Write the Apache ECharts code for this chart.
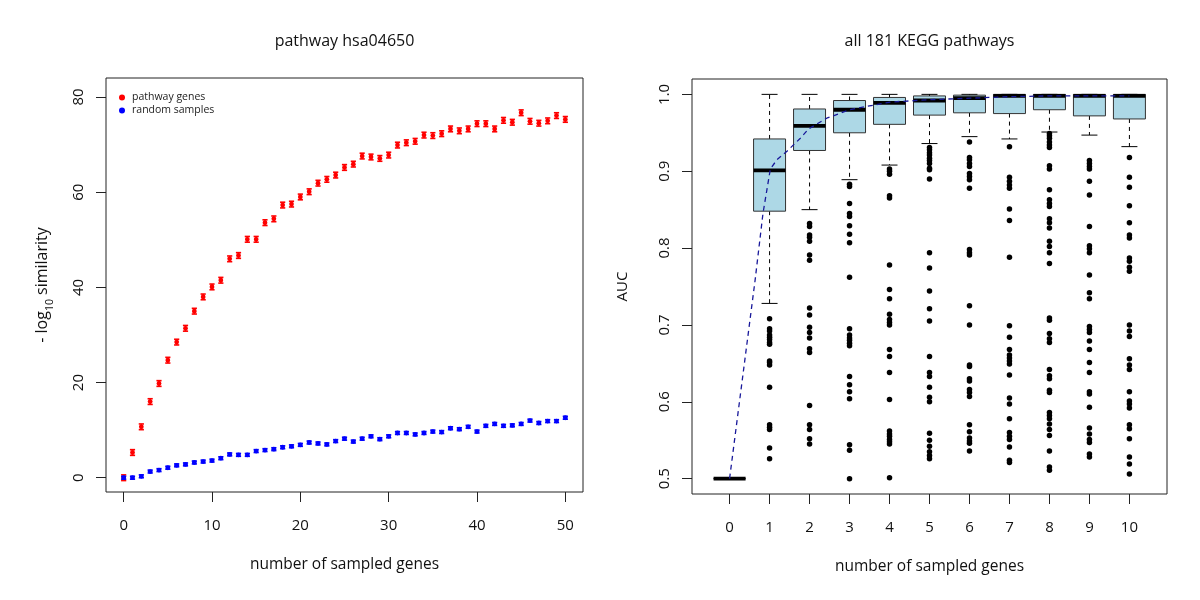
<!DOCTYPE html>
<html><head><meta charset="utf-8">
<script src="https://cdn.jsdelivr.net/npm/echarts@6/dist/echarts.min.js"></script>
<style>html,body{margin:0;padding:0;background:#fff}#c{width:1200px;height:600px}</style>
</head><body><div id="c"></div>
<script>
// ---------- left panel data ----------
const sampledGenes = [0,1,2,3,4,5,6,7,8,9,10,11,12,13,14,15,16,17,18,19,20,21,22,23,24,25,26,27,28,29,30,31,32,33,34,35,36,37,38,39,40,41,42,43,44,45,46,47,48,49,50];
const pathwayGenes = [0,5.3,10.7,16.0,19.8,24.7,28.5,31.4,35.0,38.0,40.1,41.5,46.0,46.7,50.1,50.1,53.6,54.4,57.3,57.5,59.0,60.1,61.9,62.7,63.6,65.2,65.9,67.6,67.4,67.1,67.8,69.9,70.4,70.7,72.0,71.9,72.3,73.3,72.9,73.3,74.4,74.4,73.3,75.1,74.7,76.7,74.9,74.5,75.0,76.1,75.3];
const randomSamples = [0.0,0.0,0.3,1.3,1.6,2.1,2.6,2.8,3.2,3.4,3.6,4.1,4.9,4.8,4.8,5.6,5.8,6.0,6.4,6.6,6.9,7.4,7.2,7.0,7.7,8.2,7.6,8.2,8.7,8.1,8.7,9.4,9.4,9.1,9.4,9.7,9.6,10.4,10.2,10.7,9.7,10.9,11.3,10.9,11.0,11.3,12.0,11.5,11.9,11.9,12.6];
const errPathway = 0.6;
const errRandom = 0.3;
const leftXTicks = [0,10,20,30,40,50];
const leftYTicks = [0,20,40,60,80];

// ---------- right panel data ----------
const boxCategories = [0,1,2,3,4,5,6,7,8,9,10];
// [lower whisker, Q1, median, Q3, upper whisker]
const boxStats = [
  [0.500,0.500,0.500,0.500,0.500],
  [0.728,0.848,0.901,0.942,1.000],
  [0.850,0.927,0.959,0.981,1.000],
  [0.889,0.950,0.980,0.992,1.000],
  [0.908,0.961,0.989,0.996,1.000],
  [0.936,0.973,0.992,0.998,1.000],
  [0.945,0.976,0.995,0.999,1.000],
  [0.942,0.975,0.998,1.000,1.000],
  [0.951,0.980,0.998,1.000,1.000],
  [0.947,0.972,0.998,1.000,1.000],
  [0.932,0.968,0.998,1.000,1.000]
];
const outliers = [
  [],
  [0.708,0.695,0.692,0.687,0.684,0.681,0.677,0.675,0.653,0.651,0.648,0.619,0.570,0.567,0.564,0.540,0.526],
  [0.832,0.828,0.817,0.814,0.809,0.791,0.784,0.722,0.713,0.697,0.690,0.683,0.669,0.664,0.595,0.570,0.564,0.552,0.545],
  [0.883,0.880,0.858,0.845,0.841,0.829,0.818,0.807,0.762,0.695,0.687,0.683,0.680,0.676,0.673,0.633,0.622,0.613,0.604,0.544,0.537,0.500],
  [0.903,0.900,0.896,0.868,0.865,0.778,0.746,0.734,0.714,0.707,0.703,0.700,0.668,0.659,0.638,0.603,0.562,0.558,0.555,0.551,0.548,0.545,0.501],
  [0.931,0.928,0.924,0.921,0.917,0.914,0.910,0.904,0.902,0.890,0.794,0.774,0.744,0.721,0.705,0.659,0.638,0.633,0.619,0.606,0.600,0.559,0.550,0.542,0.535,0.530,0.526],
  [0.938,0.918,0.915,0.910,0.906,0.897,0.893,0.889,0.878,0.798,0.794,0.791,0.725,0.700,0.648,0.646,0.630,0.627,0.616,0.612,0.607,0.570,0.561,0.553,0.549,0.546,0.536],
  [0.932,0.892,0.887,0.882,0.878,0.851,0.836,0.788,0.699,0.684,0.668,0.661,0.657,0.653,0.649,0.635,0.605,0.597,0.578,0.560,0.555,0.551,0.541,0.524,0.521],
  [0.949,0.946,0.943,0.938,0.934,0.931,0.907,0.903,0.876,0.863,0.858,0.854,0.838,0.833,0.826,0.809,0.802,0.794,0.780,0.709,0.706,0.689,0.682,0.677,0.642,0.634,0.630,0.615,0.612,0.586,0.582,0.578,0.571,0.564,0.556,0.536,0.515,0.511],
  [0.914,0.910,0.906,0.903,0.887,0.869,0.828,0.803,0.799,0.794,0.765,0.742,0.734,0.698,0.694,0.690,0.679,0.668,0.651,0.638,0.613,0.610,0.593,0.566,0.558,0.551,0.547,0.532,0.528],
  [0.918,0.892,0.879,0.855,0.833,0.817,0.813,0.787,0.783,0.775,0.770,0.700,0.692,0.685,0.656,0.648,0.642,0.613,0.601,0.597,0.592,0.570,0.565,0.552,0.528,0.519,0.506]
];
const curveX = [0,0.64,0.835,1.02,1.185,1.435,1.77,1.975,2.43,3.0,3.6,4.02,5.0,6.0,7.0,8.0,9.0,10.0];
const curveY = [0.5,0.759,0.845,0.903,0.915,0.926,0.943,0.955,0.969,0.980,0.986,0.990,0.993,0.995,0.997,0.998,0.998,0.998];
const rightYTicks = [0.5,0.6,0.7,0.8,0.9,1.0];

// ---------- build ----------
const FONT = 'Open Sans';
const TXT = '#111';
const chart = echarts.init(document.getElementById('c'), null, {renderer:'canvas'});

function errRender(err, color) {
  return function (params, api) {
    const x = api.value(0), y = api.value(1);
    const p = api.coord([x, y]);
    const t = api.coord([x, y + err]);
    const b = api.coord([x, y - err]);
    const cw = 2.6;
    const st = {stroke: color, lineWidth: 1.6};
    return {type:'group', children:[
      {type:'line', shape:{x1:p[0],y1:t[1],x2:p[0],y2:b[1]}, style:st},
      {type:'line', shape:{x1:p[0]-cw,y1:t[1],x2:p[0]+cw,y2:t[1]}, style:st},
      {type:'line', shape:{x1:p[0]-cw,y1:b[1],x2:p[0]+cw,y2:b[1]}, style:st},
      {type:'circle', shape:{cx:p[0],cy:p[1],r:2.4}, style:{fill:color}}
    ]};
  };
}

function boxRender(params, api) {
  const x = api.value(0);
  const lo = api.coord([x, api.value(1)]);
  const q1 = api.coord([x, api.value(2)]);
  const md = api.coord([x, api.value(3)]);
  const q3 = api.coord([x, api.value(4)]);
  const hi = api.coord([x, api.value(5)]);
  const half = api.size([0.8, 0])[0] / 2;
  const cap = half / 2;
  const cx = lo[0];
  const dash = {stroke:'#000', lineWidth:1, lineDash:[4,4]};
  const solid = {stroke:'#000', lineWidth:1};
  return {type:'group', children:[
    {type:'line', shape:{x1:cx,y1:q3[1],x2:cx,y2:hi[1]}, style:dash},
    {type:'line', shape:{x1:cx,y1:q1[1],x2:cx,y2:lo[1]}, style:dash},
    {type:'line', shape:{x1:cx-cap,y1:hi[1],x2:cx+cap,y2:hi[1]}, style:solid},
    {type:'line', shape:{x1:cx-cap,y1:lo[1],x2:cx+cap,y2:lo[1]}, style:solid},
    {type:'rect', shape:{x:cx-half,y:q3[1],width:2*half,height:q1[1]-q3[1]}, style:{fill:'#ADD8E6', stroke:'#333', lineWidth:1}},
    {type:'line', shape:{x1:cx-half,y1:md[1],x2:cx+half,y2:md[1]}, style:{stroke:'#000', lineWidth:3.8}}
  ]};
}

const boxData = boxCategories.map((c, i) => [c].concat(boxStats[i]));
const outlierData = [];
boxCategories.forEach((c, i) => outliers[i].forEach(v => outlierData.push([c, v])));
const curveData = curveX.map((x, i) => [x, curveY[i]]);

const tickStyle = {lineStyle:{color:'#222', width:1}};
function axisBase(ticks, extraLabel) {
  return {
    axisLine:{show:false, onZero:false}, splitLine:{show:false},
    axisTick:{show:true, inside:false, length:10, customValues:ticks, ...tickStyle},
    axisLabel:Object.assign({customValues:ticks, fontSize:15, color:TXT, fontFamily:FONT}, extraLabel)
  };
}
const option = {
  animation: false,
  textStyle: {fontFamily: FONT},
  grid: [
    {left:106, top:78, width:477, height:414, show:true, borderColor:'#222', borderWidth:1, backgroundColor:'transparent'},
    {left:692, top:79, width:475, height:415, show:true, borderColor:'#222', borderWidth:1, backgroundColor:'transparent'}
  ],
  legend: {
    left: 114, top: 87, orient: 'vertical', itemWidth: 6, itemHeight: 6, itemGap: 2,
    textStyle: {fontSize: 10.5, color: '#222', fontFamily: FONT, lineHeight: 11, padding:[0,0,0,2]},
    data: [{name:'pathway genes', icon:'circle'}, {name:'random samples', icon:'circle'}]
  },
  xAxis: [
    Object.assign({gridIndex:0, type:'value', min:-2, max:52,
     name:'number of sampled genes', nameLocation:'middle', nameGap:65,
     nameTextStyle:{fontSize:15.5, color:TXT, fontFamily:FONT}}, axisBase(leftXTicks, {margin:26})),
    Object.assign({gridIndex:1, type:'value', min:-0.94, max:10.94,
     name:'number of sampled genes', nameLocation:'middle', nameGap:65,
     nameTextStyle:{fontSize:15.5, color:TXT, fontFamily:FONT}}, axisBase(boxCategories, {margin:26}))
  ],
  yAxis: [
    Object.assign({gridIndex:0, type:'value', min:-3, max:84,
     name:'{a|- log}{s|10}{a| similarity}', nameLocation:'middle', nameRotate:90, nameGap:50,
     nameTextStyle:{color:TXT, fontFamily:FONT, rich:{
       a:{fontSize:16, lineHeight:22, verticalAlign:'top', color:TXT, fontFamily:FONT},
       s:{fontSize:10.5, lineHeight:12, verticalAlign:'bottom', color:TXT, fontFamily:FONT}
     }}}, axisBase(leftYTicks, {rotate:90, margin:20})),
    Object.assign({gridIndex:1, type:'value', min:0.48, max:1.02,
     name:'AUC', nameLocation:'middle', nameRotate:90, nameGap:62,
     nameTextStyle:{fontSize:15, color:TXT, fontFamily:FONT}},
     axisBase(rightYTicks, {rotate:90, margin:20, formatter: v => Number(v).toFixed(1)}))
  ],
  graphic: [
    {type:'text', x:344.5, y:41, style:{text:'pathway hsa04650', fontSize:16, fontFamily:FONT, fill:TXT, align:'center', verticalAlign:'middle'}},
    {type:'text', x:929.5, y:41, style:{text:'all 181 KEGG pathways', fontSize:16, fontFamily:FONT, fill:TXT, align:'center', verticalAlign:'middle'}}
  ],
  series: [
    {name:'pathway genes', type:'custom', xAxisIndex:0, yAxisIndex:0, itemStyle:{color:'#ff0000'},
     renderItem: errRender(errPathway, '#ff0000'), encode:{x:0, y:1},
     data: sampledGenes.map((x, i) => [x, pathwayGenes[i]]), z:2},
    {name:'random samples', type:'custom', xAxisIndex:0, yAxisIndex:0, itemStyle:{color:'#0000ff'},
     renderItem: errRender(errRandom, '#0000ff'), encode:{x:0, y:1},
     data: sampledGenes.map((x, i) => [x, randomSamples[i]]), z:3},
    {name:'AUC boxes', type:'custom', xAxisIndex:1, yAxisIndex:1, renderItem: boxRender,
     encode:{x:0, y:[1,2,3,4,5]}, data: boxData, z:2},
    {name:'outliers', type:'scatter', xAxisIndex:1, yAxisIndex:1, symbol:'circle', symbolSize:5.5,
     itemStyle:{color:'#000', opacity:1}, data: outlierData, z:3},
    {name:'mean AUC', type:'line', xAxisIndex:1, yAxisIndex:1, showSymbol:false, smooth:false,
     lineStyle:{color:'#18189a', width:1.3, type:[5,4]}, data: curveData, z:4}
  ]
};
chart.setOption(option);
</script>
</body></html>
